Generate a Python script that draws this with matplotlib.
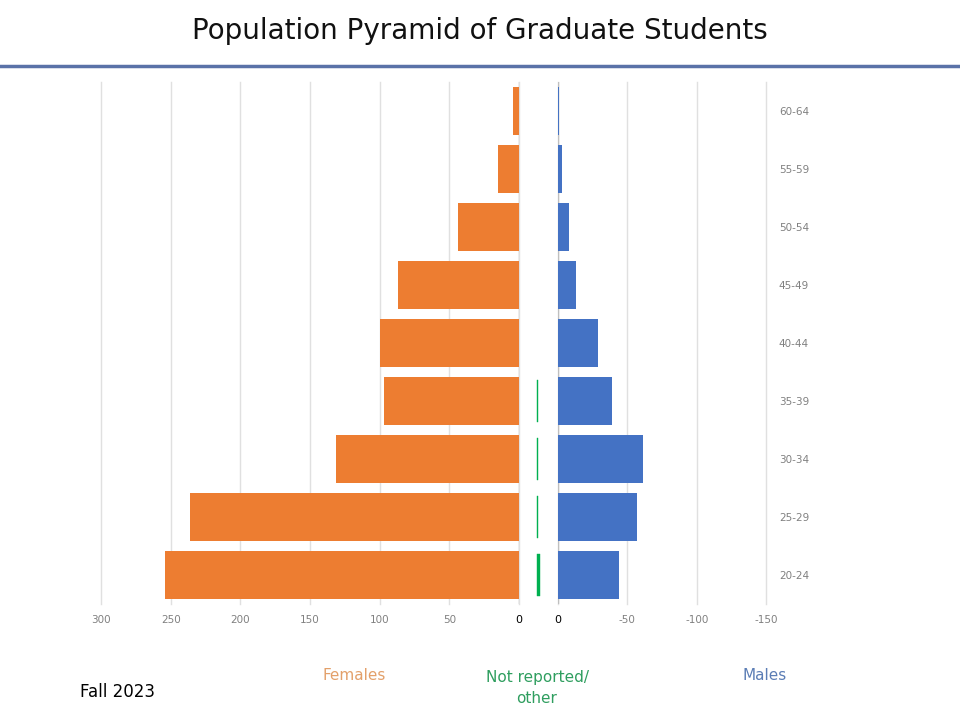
import matplotlib
matplotlib.use("Agg")
import matplotlib.pyplot as plt
import numpy as np

# age groups, bottom to top
ages = ["20-24", "25-29", "30-34", "35-39", "40-44", "45-49", "50-54", "55-59", "60-64"]
females = [254, 236, 131, 97, 100, 87, 44, 15, 4]
males = [-44, -57, -61, -39, -29, -13, -8, -3, -1]
not_reported = [3, 1, 1, 1, 0, 0, 0, 0, 0]

female_ticks = [0, 50, 100, 150, 200, 250, 300]
male_ticks = [0, -50, -100, -150]

orange = "#ED7D31"
blue = "#4472C4"
green = "#00B050"
grid_c = "#e0e0e0"
tick_c = "#808080"

fig = plt.figure(figsize=(9.6, 7.2), dpi=100)
y = np.arange(len(ages))
bottom, height = 1 - 604 / 720, 522 / 720


def style(ax):
    for s in ax.spines.values():
        s.set_visible(False)
    ax.set_ylim(-0.5, len(ages) - 0.5)
    ax.tick_params(axis="x", length=0, pad=8, labelsize=7.5, labelcolor=tick_c)
    ax.grid(axis="x", color=grid_c, linewidth=1)
    ax.set_axisbelow(True)
    for g in ax.get_xgridlines():
        g.set_clip_on(False)


# females (drawn on the left, axis runs leftwards)
axf = fig.add_axes([101 / 960, bottom, 418 / 960, height])
axf.barh(y, females, height=0.83, color=orange, zorder=3)
axf.set_xlim(300, 0)
axf.set_xticks(female_ticks)
axf.set_yticks([])
style(axf)
axf.axvline(0, color="#bfbfbf", linewidth=1, zorder=2)
axf.get_xticklabels()[0].set_color("black")
axf.get_xticklabels()[0].set_fontsize(8)

# males (drawn on the right)
axm = fig.add_axes([557.7 / 960, bottom, 208.6 / 960, height])
axm.barh(y, males, height=0.83, color=blue, zorder=3)
axm.set_xlim(0, -150)
axm.set_xticks(male_ticks)
axm.set_xticklabels([str(t) for t in male_ticks])
axm.yaxis.tick_right()
axm.set_yticks(y)
axm.set_yticklabels(ages)
style(axm)
axm.tick_params(axis="y", length=0, pad=9, labelsize=7.5, labelcolor=tick_c)
axm.axvline(0, color="#bfbfbf", linewidth=1, zorder=2)
axm.get_xticklabels()[0].set_color("black")
axm.get_xticklabels()[0].set_fontsize(8)

# not reported / other (narrow axis in the middle)
axn = fig.add_axes([530 / 960, bottom, 15 / 960, height])
edges = [green if v > 0 else "none" for v in not_reported]
axn.barh(y, not_reported, height=0.72, color=green, edgecolor=edges, linewidth=0.3)
axn.set_xlim(-7, 8)
axn.set_ylim(-0.5, len(ages) - 0.5)
axn.axis("off")

# title and rule
fig.text(0.5, 1 - 31 / 720, "Population Pyramid of Graduate Students",
         ha="center", va="center", fontsize=20, color="#111111")
fig.add_artist(plt.Line2D([0, 1], [1 - 66 / 720, 1 - 66 / 720],
                          color="#5a72a8", linewidth=2.5))

# series labels
fig.text(765 / 960, 1 - 675 / 720, "Males", ha="center", va="center",
         fontsize=11, color="#5b7db5")
fig.text(537 / 960, 1 - 688 / 720, "Not reported/\nother", ha="center",
         va="center", fontsize=11, color="#2f9e5f", linespacing=1.5)
fig.text(354 / 960, 1 - 675 / 720, "Females", ha="center", va="center",
         fontsize=11, color="#e3a06a")
fig.text(118 / 960, 1 - 692 / 720, "Fall 2023", ha="center", va="center",
         fontsize=12, color="black")

fig.savefig("out.png", dpi=100)
